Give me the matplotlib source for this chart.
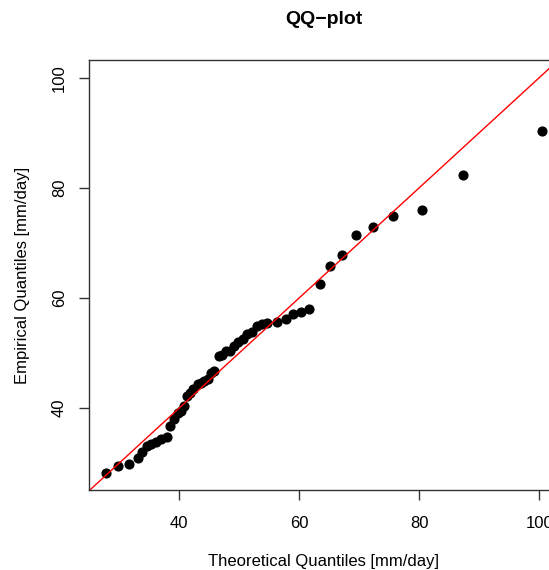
import matplotlib
matplotlib.use("Agg")
import matplotlib.pyplot as plt

plt.rcParams['font.family'] = ['Liberation Sans', 'DejaVu Sans']

# theoretical vs empirical quantiles (mm/day)
theoretical = [27.8, 29.8, 31.7, 33.1, 33.9, 34.6, 35.3, 36.1, 37.0, 38.0,
               38.5, 39.2, 39.8, 40.3, 40.8, 41.3, 41.8, 42.4, 43.1, 43.6,
               44.2, 44.8, 45.3, 45.9, 46.6, 47.1, 47.8, 48.5, 49.2, 49.9,
               50.6, 51.3, 52.1, 52.9, 53.8, 54.6, 56.3, 57.8, 59.0, 60.3,
               61.7, 63.4, 65.2, 67.1, 69.4, 72.3, 75.6, 80.5, 87.3, 100.4]
empirical = [28.2, 29.5, 29.9, 31.0, 32.0, 33.2, 33.5, 33.9, 34.4, 34.8,
             36.8, 38.0, 39.2, 39.5, 40.4, 42.2, 42.8, 43.5, 44.4, 44.5,
             45.0, 45.3, 46.4, 46.8, 49.5, 49.7, 50.3, 50.3, 51.3, 52.0,
             52.6, 53.5, 53.8, 54.9, 55.2, 55.4, 55.7, 56.2, 57.1, 57.4,
             58.0, 62.5, 65.8, 67.8, 71.4, 72.9, 74.9, 75.9, 82.3, 90.3]

W, H = 549, 570
fig = plt.figure(figsize=(W / 100, H / 100), dpi=100)
ax = fig.add_axes([89 / W, (H - 490) / H, (558.5 - 89) / W, 430 / H])

ax.plot(theoretical, empirical, 'o', color='black', markersize=6.3)
ax.plot([0, 200], [0, 200], color='red', lw=1)

ax.set_xlim(25.0, 103.2)
ax.set_ylim(25.15, 103.2)
ax.set_xticks([40, 60, 80, 100])
ax.set_yticks([40, 60, 80, 100])
ax.set_yticklabels(['40', '60', '80', '100'], rotation=90, va='center')
ax.tick_params(direction='out', length=7, width=1, color='#333333',
               labelsize=12, pad=9)
ax.tick_params(axis='x', pad=12)
for s in ax.spines.values():
    s.set_color('#333333')
    s.set_linewidth(1)

ax.set_xlabel('Theoretical Quantiles [mm/day]', fontsize=12, labelpad=16)
ax.set_ylabel('Empirical Quantiles [mm/day]', fontsize=12, labelpad=16)
fig.text(0.5 * (89 + 558.5) / W, 1 - 20 / H, 'QQ\u2212plot', fontsize=14,
         fontweight='bold', ha='center', va='center')

fig.savefig('out.png', dpi=100)
